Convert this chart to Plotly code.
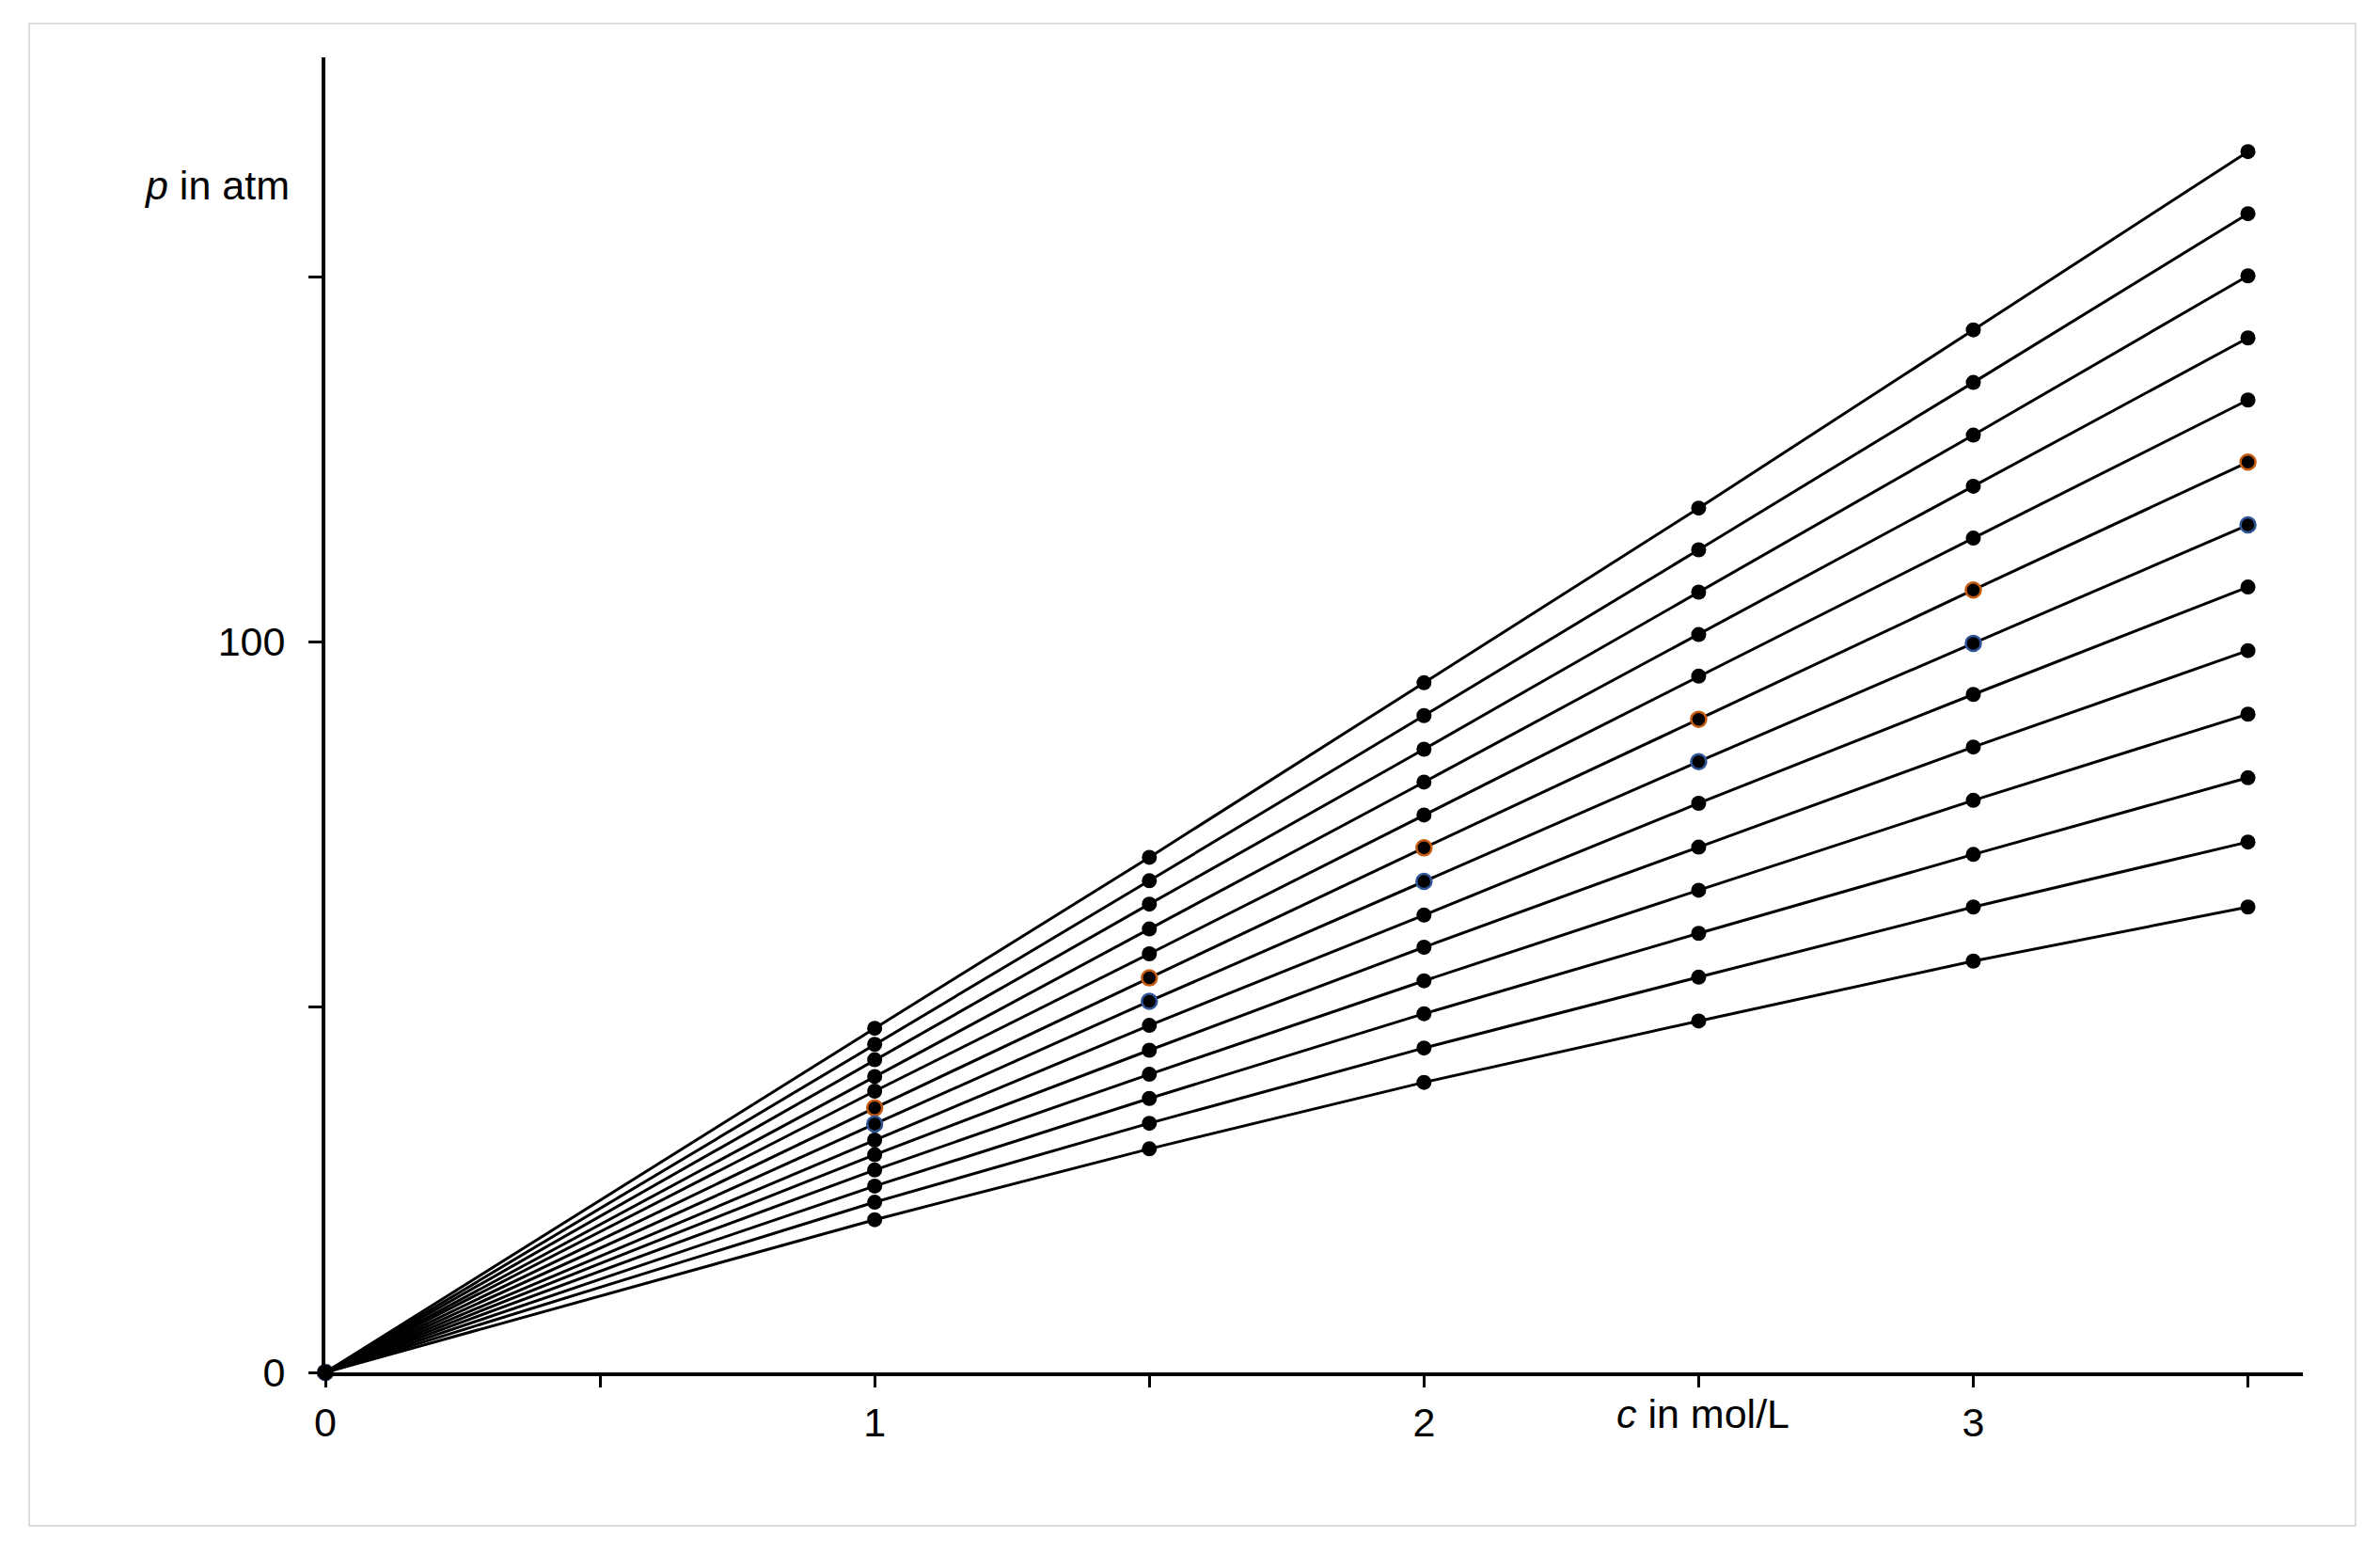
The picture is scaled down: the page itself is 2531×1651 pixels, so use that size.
import plotly.graph_objects as go

# concentrations (mol/L)
c_values = [0, 1, 1.5, 2, 2.5, 3, 3.5]

# pressures (atm) read at each concentration, lines ordered top -> bottom
p_at_c0 = [0] * 13
p_at_c1 = [47.1, 44.9, 42.8, 40.5, 38.5, 36.2, 34.0, 31.8, 29.8, 27.7, 25.5, 23.3, 20.9]
p_at_c15 = [70.5, 67.3, 64.1, 60.7, 57.3, 54.0, 50.8, 47.5, 44.1, 40.8, 37.5, 34.1, 30.6]
p_at_c2 = [94.4, 89.9, 85.3, 80.8, 76.3, 71.8, 67.2, 62.6, 58.2, 53.6, 49.1, 44.4, 39.7]
p_at_c25 = [118.3, 112.6, 106.8, 101.0, 95.3, 89.4, 83.6, 77.9, 71.9, 66.0, 60.1, 54.1, 48.1]
p_at_c3 = [142.7, 135.5, 128.3, 121.3, 114.2, 107.1, 99.8, 92.8, 85.6, 78.3, 70.9, 63.7, 56.3]
p_at_c35 = [167.1, 158.6, 150.1, 141.6, 133.1, 124.6, 116.0, 107.5, 98.8, 90.1, 81.4, 72.6, 63.7]

x_tickvals = [0, 0.5, 1, 1.5, 2, 2.5, 3, 3.5]
x_ticktext = ["0", "", "1", "", "2", "", "3", ""]
y_tickvals = [0, 50, 100, 150]
y_ticktext = ["0", "", "100", ""]

columns = [p_at_c0, p_at_c1, p_at_c15, p_at_c2, p_at_c25, p_at_c3, p_at_c35]
n_lines = len(p_at_c1)

marker_edge = {5: "#c55a11", 6: "#2f5597"}

FONT = "Liberation Sans, Arial, sans-serif"
fig = go.Figure()
for i in range(n_lines):
    ys = [col[i] for col in columns]
    edge = marker_edge.get(i, "black")
    fig.add_trace(go.Scatter(
        x=c_values, y=ys, mode="lines+markers",
        line=dict(color="black", width=3),
        marker=dict(color="black", size=16, line=dict(color=edge, width=2.5 if i in marker_edge else 0)),
        cliponaxis=False, showlegend=False,
    ))

fig.update_layout(
    width=2531, height=1651,
    margin=dict(l=346, r=82, t=61, b=192),
    paper_bgcolor="white", plot_bgcolor="white",
    font=dict(family=FONT, size=43, color="black"),
    xaxis=dict(range=[0, 3.6], showgrid=False, zeroline=False,
               showline=True, linecolor="black", linewidth=4,
               ticks="outside", tickvals=x_tickvals, ticktext=x_ticktext,
               ticklen=12, tickwidth=3, tickcolor="black", ticklabelstandoff=0),
    yaxis=dict(range=[0, 180], showgrid=False, zeroline=False,
               showline=True, linecolor="black", linewidth=4,
               ticks="outside", tickvals=y_tickvals, ticktext=y_ticktext,
               ticklen=14, tickwidth=3, tickcolor="black", ticklabelstandoff=16),
    annotations=[
        dict(text="<i>p</i> in atm", x=-0.0171, y=0.9027, xref="paper", yref="paper",
             xanchor="right", yanchor="middle", showarrow=False,
             font=dict(family=FONT, size=43, color="black")),
        dict(text="<i>c</i> in mol/L", x=0.6966, y=-0.0315, xref="paper", yref="paper",
             xanchor="center", yanchor="middle", showarrow=False,
             font=dict(family=FONT, size=43, color="black")),
    ],
    shapes=[dict(type="rect", xref="paper", yref="paper",
                 x0=-0.1498, x1=1.0266, y0=-0.1166, y1=1.0258,
                 line=dict(color="#dcdcdc", width=2), layer="below")],
)

fig.write_html("out.html", config={"displayModeBar": False},
               post_script="document.body.style.margin='0';document.body.style.overflow='hidden';")
